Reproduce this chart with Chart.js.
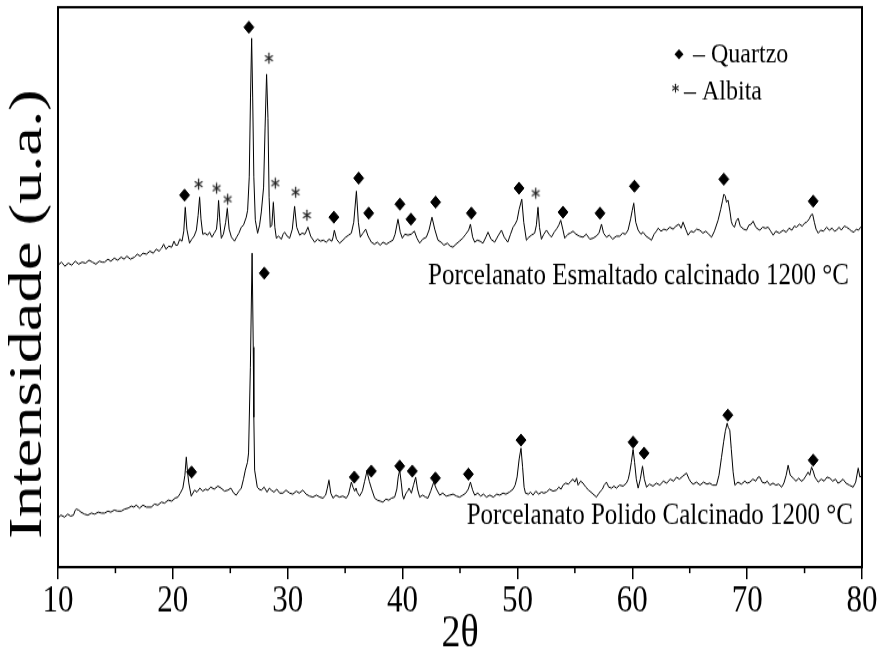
<!DOCTYPE html>
<html>
<head>
<meta charset="utf-8">
<script src="https://cdn.jsdelivr.net/npm/chart.js@4.4.1/dist/chart.umd.min.js"></script>
<style>
  html { overflow: hidden; }
  html, body { margin: 0; padding: 0; background: #fff; }
  body { height: 657px; }
  /* the source figure is stretched vertically, so the canvas is too */
  #wrap { width: 882px; height: 548px; transform: scale(1, 1.19891); transform-origin: 0 0; }
</style>
</head>
<body>
<div id="wrap"><canvas id="xrd" width="882" height="548"></canvas></div>
<script>
// ---- DATA: [2θ, intensity (u.a.)] ----
const esmaltado = [
  [10.0,302],[10.3,305],[10.6,301],[10.9,304],[11.2,302],[11.5,306],[11.8,303],[12.1,305],[12.4,304],[12.7,307],
  [13.0,305],[13.3,303],[13.6,306],[13.85,305],[14.05,305],[14.35,308],[14.6,306],[14.9,309],[15.2,307],[15.5,310],
  [15.75,308],[16.0,311],[16.3,308],[16.66,310],[16.9,313],[17.15,311],[17.4,314],[17.7,313],[18.0,316],[18.3,314],
  [18.55,318],[18.8,316],[19.02,319],[19.2,323],[19.4,318],[19.65,321],[19.9,320],[20.1,326],[20.25,322],[20.41,322],
  [20.6,328],[20.8,326],[20.95,336],[21.08,360],[21.22,338],[21.45,324],[21.65,328],[21.85,331],[22.05,337],[22.2,352],
  [22.33,370],[22.45,348],[22.6,333],[22.8,334],[23.02,332],[23.2,335],[23.4,330],[23.6,334],[23.8,338],[23.9,350],
  [23.98,367],[24.1,345],[24.22,329],[24.4,333],[24.6,345],[24.74,359],[24.9,338],[25.1,330],[25.37,326],[25.55,330],
  [25.75,334],[25.96,340],[26.15,342],[26.39,350],[26.51,357],[26.65,390],[26.76,470],[26.86,529],[26.95,470],[27.05,390],
  [27.18,347],[27.38,334],[27.55,342],[27.7,355],[27.9,380],[28.03,440],[28.16,493],[28.28,449],[28.38,370],[28.48,340],
  [28.62,342],[28.75,365],[28.88,340],[29.01,329],[29.2,331],[29.45,328],[29.6,333],[29.73,335],[29.95,331],[30.17,329],
  [30.4,338],[30.6,361],[30.78,340],[31.04,332],[31.25,334],[31.5,333],[31.76,340],[32.0,331],[32.34,325],[32.6,328],
  [32.85,326],[33.1,327],[33.36,325],[33.6,328],[33.85,326],[33.95,330],[34.06,337],[34.25,328],[34.52,324],[34.8,327],
  [35.05,330],[35.3,332],[35.54,334],[35.75,345],[35.98,376],[36.15,345],[36.32,330],[36.55,334],[36.79,338],[37.0,331],
  [37.28,325],[37.55,323],[37.8,325],[38.05,322],[38.3,325],[38.59,323],[38.85,325],[39.16,327],[39.35,333],[39.6,348],
  [39.8,335],[39.98,329],[40.2,333],[40.47,332],[40.75,333],[41.03,336],[41.25,329],[41.49,324],[41.75,328],[42.07,330],
  [42.3,337],[42.56,350],[42.8,338],[43.08,327],[43.35,325],[43.6,322],[43.9,324],[44.15,321],[44.39,320],[44.65,323],
  [44.95,326],[45.24,329],[45.5,333],[45.75,337],[45.91,343],[46.1,330],[46.28,325],[46.5,327],[46.75,326],[47.0,324],
  [47.25,330],[47.44,335],[47.7,328],[48.02,325],[48.3,331],[48.61,337],[48.85,330],[49.16,325],[49.4,333],[49.62,340],
  [49.8,343],[49.97,347],[50.15,358],[50.38,368],[50.55,345],[50.78,327],[51.0,330],[51.22,332],[51.5,334],[51.65,342],
  [51.79,360],[51.92,340],[52.09,328],[52.3,333],[52.53,337],[52.75,333],[52.96,330],[53.2,335],[53.45,339],[53.6,342],
  [53.77,347],[53.95,338],[54.12,329],[54.4,333],[54.6,334],[54.84,336],[55.1,333],[55.4,331],[55.71,330],[56.0,333],
  [56.3,328],[56.59,329],[56.85,331],[57.1,334],[57.32,343],[57.5,334],[57.75,330],[58.0,332],[58.3,328],[58.6,331],
  [58.91,331],[59.15,334],[59.4,333],[59.63,337],[59.85,348],[60.0,357],[60.13,364],[60.3,345],[60.51,337],[60.75,333],
  [60.94,335],[61.2,331],[61.45,329],[61.67,327],[61.9,333],[62.1,336],[62.25,339],[62.5,336],[62.75,338],[63.0,337],
  [63.27,340],[63.55,338],[63.8,341],[64.05,343],[64.25,339],[64.42,345],[64.65,338],[64.86,332],[65.1,336],[65.35,335],
  [65.6,338],[65.88,337],[66.15,334],[66.4,336],[66.65,333],[66.9,330],[67.15,336],[67.47,347],[67.7,358],[67.85,366],
  [67.97,373],[68.1,371],[68.2,365],[68.34,367],[68.5,356],[68.62,346],[68.73,342],[68.9,340],[69.05,346],[69.22,349],
  [69.4,341],[69.7,338],[69.95,337],[70.15,342],[70.35,343],[70.52,346],[70.75,340],[70.95,338],[71.11,337],[71.35,340],
  [71.6,339],[71.83,340],[72.05,336],[72.27,332],[72.5,336],[72.8,334],[73.14,337],[73.4,335],[73.65,339],[73.9,337],
  [74.1,341],[74.3,340],[74.55,343],[74.8,341],[75.0,344],[75.17,345],[75.4,348],[75.55,352],[75.7,353],[75.85,345],
  [76.0,338],[76.19,334],[76.4,337],[76.65,336],[76.92,340],[77.15,337],[77.4,339],[77.6,336],[77.79,337],[78.0,340],
  [78.2,337],[78.45,341],[78.66,340],[78.9,338],[79.1,336],[79.3,335],[79.5,338],[79.7,337],[79.88,340],[80.0,338]
];
const polido = [
  [10.0,49],[10.25,52],[10.57,50],[10.85,53],[11.1,51],[11.35,52],[11.5,57],[11.59,58],[11.8,57],[12.0,55],
  [12.31,53],[12.6,52],[12.9,54],[13.2,53],[13.5,55],[13.8,54],[14.05,54],[14.35,56],[14.6,55],[14.9,57],
  [15.2,56],[15.51,56],[15.8,58],[16.1,59],[16.4,61],[16.6,60],[16.81,62],[17.1,59],[17.4,62],[17.7,60],
  [18.12,60],[18.4,63],[18.7,62],[19.0,65],[19.28,64],[19.6,67],[19.9,66],[20.2,69],[20.44,70],[20.65,74],
  [20.87,79],[21.05,92],[21.17,110],[21.28,95],[21.39,84],[21.6,71],[21.89,77],[22.1,75],[22.35,79],[22.6,76],
  [22.85,78],[23.05,77],[23.3,80],[23.6,78],[23.92,81],[24.2,79],[24.5,76],[24.79,77],[25.05,79],[25.3,74],
  [25.52,72],[25.75,76],[25.96,79],[26.15,88],[26.31,97],[26.5,105],[26.59,114],[26.75,200],[26.9,314],[27.0,220],
  [27.05,150],[27.12,97],[27.35,80],[27.5,78],[27.7,77],[27.95,80],[28.2,75],[28.4,79],[28.57,77],[28.8,75],
  [29.05,78],[29.3,74],[29.58,74],[29.85,77],[30.17,74],[30.45,73],[30.75,76],[31.0,74],[31.32,77],[31.6,73],
  [31.9,71],[32.19,70],[32.5,72],[32.8,70],[33.07,69],[33.3,72],[33.45,79],[33.59,87],[33.75,74],[33.94,69],
  [34.2,72],[34.5,70],[34.8,71],[35.1,69],[35.3,73],[35.54,85],[35.68,80],[35.83,76],[35.95,79],[36.05,75],
  [36.26,71],[36.5,76],[36.7,86],[36.9,96],[37.1,86],[37.28,79],[37.57,69],[37.8,67],[38.05,66],[38.29,65],
  [38.55,68],[38.8,67],[39.05,69],[39.31,70],[39.5,78],[39.62,90],[39.75,97],[39.88,85],[40.0,72],[40.1,68],
  [40.3,74],[40.45,76],[40.56,79],[40.77,74],[40.95,82],[41.14,90],[41.3,78],[41.49,70],[41.75,72],[42.0,70],
  [42.21,69],[42.45,76],[42.71,85],[42.95,78],[43.23,72],[43.5,74],[43.8,71],[44.1,72],[44.4,73],[44.7,71],
  [44.97,70],[45.25,72],[45.5,74],[45.72,78],[45.91,85],[46.1,77],[46.28,72],[46.55,74],[46.8,71],[47.05,73],
  [47.3,70],[47.6,72],[47.9,70],[48.2,73],[48.46,72],[48.75,74],[49.0,73],[49.3,75],[49.62,78],[49.8,82],
  [49.97,90],[50.15,108],[50.31,119],[50.45,100],[50.58,80],[50.7,74],[50.95,73],[51.15,75],[51.36,72],[51.6,76],
  [51.85,73],[52.1,75],[52.3,74],[52.53,75],[52.8,78],[53.1,76],[53.4,77],[53.6,80],[53.8,78],[53.97,82],
  [54.2,84],[54.45,83],[54.65,86],[54.84,88],[55.0,85],[55.15,89],[55.28,82],[55.5,86],[55.71,84],[55.95,80],
  [56.2,77],[56.5,74],[56.88,70],[57.1,74],[57.4,78],[57.55,82],[57.75,85],[57.95,80],[58.2,79],[58.4,81],
  [58.62,79],[58.9,82],[59.2,81],[59.49,84],[59.65,88],[59.78,95],[59.92,105],[60.07,118],[60.2,105],[60.35,88],
  [60.51,79],[60.7,88],[60.89,101],[61.05,88],[61.24,80],[61.5,83],[61.8,81],[62.1,84],[62.4,82],[62.7,86],
  [63.0,84],[63.3,88],[63.6,86],[63.85,90],[64.1,88],[64.4,91],[64.72,94],[64.95,88],[65.1,85],[65.3,83],
  [65.6,85],[65.9,82],[66.2,85],[66.5,83],[66.75,84],[67.0,82],[67.33,82],[67.55,92],[67.77,110],[67.95,125],
  [68.1,136],[68.26,144],[68.35,140],[68.49,137],[68.62,118],[68.78,95],[68.93,82],[69.2,85],[69.5,83],[69.8,86],
  [70.0,84],[70.24,85],[70.5,88],[70.75,86],[70.95,90],[71.11,90],[71.3,85],[71.55,84],[71.75,86],[71.98,82],
  [72.25,84],[72.5,82],[72.75,83],[73.0,80],[73.2,84],[73.4,92],[73.57,102],[73.75,92],[74.01,89],[74.25,86],
  [74.5,89],[74.7,86],[74.88,87],[75.1,91],[75.31,95],[75.45,92],[75.61,100],[75.75,96],[75.9,90],[76.19,85],
  [76.45,88],[76.7,86],[76.95,90],[77.2,89],[77.45,86],[77.7,88],[77.9,84],[78.08,85],[78.35,88],[78.6,84],
  [78.9,82],[79.23,80],[79.45,85],[79.67,99],[79.82,90],[80.0,92]
];
// phase marks
const quartzoEsmaltado = [
  [21.02,372],[26.62,540],[34.02,350],[36.18,389],[37.05,354],[39.77,363],[40.73,348],[42.88,365],
  [45.99,354],[50.14,379],[53.97,355],[57.19,354],[60.19,381],[67.97,388],[75.75,366]
];
const albitaEsmaltado = [
  [22.24,383],[23.81,379],[24.77,368],[28.36,509],[28.92,384],[30.69,375],[31.67,352],[51.59,374]
];
const quartzoPolido = [
  [21.63,95],[27.96,294],[35.80,90],[37.28,96],[39.75,101],[40.85,96],[42.86,89],[45.73,93],
  [50.31,127],[60.07,125],[61.03,114],[68.32,152],[75.75,107]
];
const xTicks = [10, 20, 30, 40, 50, 60, 70, 80];
const xMinor = [15, 25, 35, 45, 55, 65, 75];
const seriesLabels = ["Porcelanato Esmaltado calcinado 1200 °C", "Porcelanato Polido Calcinado 1200 °C"];
const legendLabels = ["– Quartzo", "– Albita"];

const SERIF = '"Liberation Serif", "Times New Roman", serif';
const toXY = (arr) => arr.map(([x, y]) => ({ x, y }));

// asterisk glyph used as point style
function makeAsterisk(size, arm, lw) {
  const c = document.createElement("canvas");
  c.width = size; c.height = size;
  const g = c.getContext("2d");
  g.strokeStyle = "#222";
  g.lineWidth = lw;
  g.lineCap = "round";
  const m = size / 2;
  [90, 30, 150].forEach((deg) => {
    const a = (deg * Math.PI) / 180;
    g.beginPath();
    g.moveTo(m - Math.cos(a) * arm, m - Math.sin(a) * arm);
    g.lineTo(m + Math.cos(a) * arm, m + Math.sin(a) * arm);
    g.stroke();
  });
  return c;
}
const asterisk = makeAsterisk(11, 4, 1.3);

const lineStyle = {
  type: "line",
  borderColor: "#000",
  borderWidth: 1,
  pointRadius: 0,
  tension: 0,
};
const diamondStyle = {
  type: "scatter",
  pointStyle: "rectRot",
  pointRadius: 5,
  backgroundColor: "#000",
  borderColor: "#000",
  borderWidth: 1,
};

new Chart(document.getElementById("xrd"), {
  data: {
    datasets: [
      { ...lineStyle, label: seriesLabels[0], data: toXY(esmaltado) },
      { ...lineStyle, label: seriesLabels[1], data: toXY(polido) },
      { ...diamondStyle, label: "Quartzo", data: toXY(quartzoEsmaltado) },
      { ...diamondStyle, label: "Quartzo", data: toXY(quartzoPolido) },
      { type: "scatter", label: "Albita", data: toXY(albitaEsmaltado), pointStyle: asterisk, pointRadius: 5 },
    ],
  },
  options: {
    responsive: false,
    animation: false,
    devicePixelRatio: 1,
    layout: { padding: { top: 6, right: 20, left: 58, bottom: 0 } },
    plugins: { legend: { display: false }, tooltip: { enabled: false } },
    scales: {
      x: {
        type: "linear",
        min: 10,
        max: 80,
        afterFit: (scale) => { scale.height = 75; },
        afterBuildTicks: (scale) => { scale.ticks = xTicks.map((v) => ({ value: v })); },
        grid: { drawOnChartArea: false, drawTicks: true, tickLength: 10, color: "#000", lineWidth: 1.5 },
        border: { display: false },
        ticks: { color: "#000", font: { family: SERIF, size: 31 }, padding: 0, maxRotation: 0, autoSkip: false },
        title: {
          display: true,
          text: "2θ",
          color: "#000",
          font: { family: SERIF, size: 38, lineHeight: 1 },
          padding: { top: 0, bottom: 0 },
        },
      },
      y: { display: false, min: 0, max: 560 },
    },
  },
  plugins: [
    {
      id: "frameAndText",
      afterDraw(chart) {
        const { ctx, chartArea: { left, right, top, bottom } } = chart;
        const xs = chart.scales.x;
        ctx.save();
        // frame
        ctx.strokeStyle = "#000";
        ctx.lineWidth = 2;
        ctx.strokeRect(left, top, right - left, bottom - top);
        // minor ticks
        ctx.lineWidth = 1.5;
        xMinor.forEach((v) => {
          const px = xs.getPixelForValue(v);
          ctx.beginPath();
          ctx.moveTo(px, bottom);
          ctx.lineTo(px, bottom + 5);
          ctx.stroke();
        });
        // y title
        ctx.fillStyle = "#000";
        ctx.save();
        ctx.translate(29, 262);
        ctx.rotate(-Math.PI / 2);
        ctx.scale(1.17, 1);
        ctx.font = "46px " + SERIF;
        ctx.textAlign = "center";
        ctx.textBaseline = "middle";
        ctx.fillText("Intensidade (u.a.)", 0, 0);
        ctx.restore();
        // series labels
        ctx.font = "25px " + SERIF;
        ctx.textAlign = "right";
        ctx.textBaseline = "alphabetic";
        ctx.fillText(seriesLabels[0], 849, 237);
        ctx.fillText(seriesLabels[1], 853, 437);
        // legend
        ctx.font = "24px " + SERIF;
        ctx.textAlign = "left";
        ctx.fillText(legendLabels[0], 693, 52);
        ctx.fillText(legendLabels[1], 684, 83);
        ctx.beginPath();
        ctx.moveTo(679, 41); ctx.lineTo(683.5, 45.3); ctx.lineTo(679, 49.6); ctx.lineTo(674.5, 45.3);
        ctx.closePath();
        ctx.fill();
        ctx.drawImage(makeAsterisk(9, 3.2, 1.1), 671, 69);
        ctx.restore();
      },
    },
  ],
});
</script>
</body>
</html>
